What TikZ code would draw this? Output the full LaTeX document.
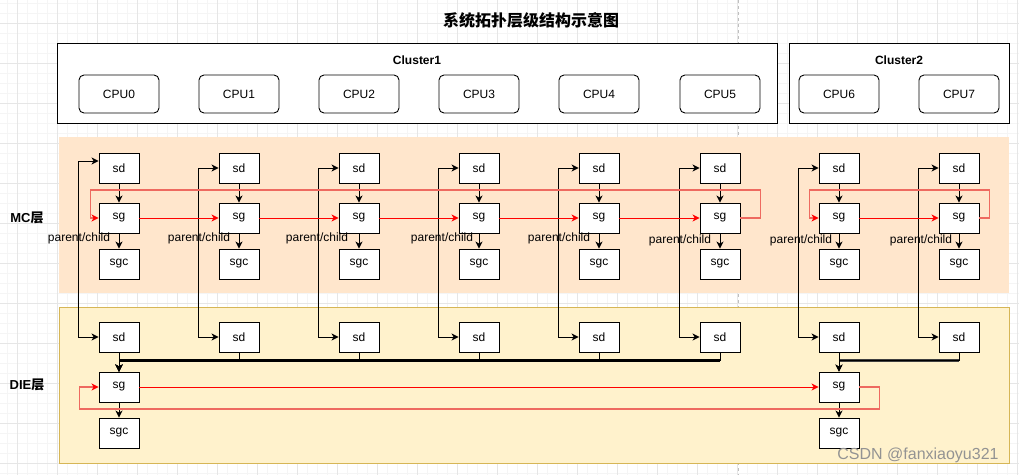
\documentclass[tikz,border=0pt]{standalone}
\usepackage{fontspec}
\setmainfont{Liberation Sans}
\newfontfamily\cjk{Noto Sans CJK SC}
\usetikzlibrary{arrows.meta}
\definecolor{mcfill}{HTML}{FFE6CC}
\definecolor{diefill}{HTML}{FFF2CC}
\definecolor{diedraw}{HTML}{D6B656}
\definecolor{loopred}{HTML}{EE6A60}
\definecolor{gminor}{HTML}{F5F5F5}
\definecolor{gmajor}{HTML}{E6E6E6}
\tikzset{
  tip/.style={-{Stealth[length=7pt,width=7pt,inset=2pt]}},
  bx/.style={draw=black,fill=white,line width=0.9pt,minimum width=40pt,minimum height=30pt,inner sep=0pt,font=\fontsize{12}{14}\selectfont},
  cpu/.style={draw=black,fill=white,line width=0.9pt,rounded corners=5pt,minimum width=80pt,minimum height=38pt,inner sep=0pt,font=\fontsize{12}{14}\selectfont},
  blk/.style={tip,draw=black,line width=1pt},
  both/.style={{Stealth[length=7pt,width=7pt,inset=2pt]}-{Stealth[length=7pt,width=7pt,inset=2pt]},draw=black,line width=1pt},
  redar/.style={tip,draw=red,line width=1pt},
  loopc/.style={-{Stealth[length=7pt,width=7pt,inset=2pt,color=red]},draw=loopred,line width=1.4pt},
  pclab/.style={font=\fontsize{12}{14}\selectfont,inner sep=0pt},
}
\begin{document}
\begin{tikzpicture}[x=1pt,y=-1pt]
\useasboundingbox[fill=white] (0,0) rectangle (1019,475);
% grid
\foreach \x in {7,17,...,1017} \draw[gminor,line width=0.8pt] (\x,0) -- (\x,475);
\foreach \y in {3,13,...,473} \draw[gminor,line width=0.8pt] (0,\y) -- (1019,\y);
\foreach \x in {17,57,...,1017} \draw[gmajor,line width=0.8pt] (\x,0) -- (\x,475);
\foreach \y in {23,63,...,463} \draw[gmajor,line width=0.8pt] (0,\y) -- (1019,\y);
\draw[gray!50,dashed,line width=0.8pt] (738,0) -- (738,475);
% title
\node[font=\cjk\bfseries\fontsize{16}{18}\selectfont] (title) at (531,20) {系统拓扑层级结构示意图};
% clusters
\node[draw=black,fill=white,line width=1pt,minimum width=720pt,minimum height=80pt,inner sep=0pt] (cl1) at (417,83) {};
\node[font=\bfseries\fontsize{12}{14}\selectfont] (cl1lab) at (417,60) {Cluster1};
\node[draw=black,fill=white,line width=1pt,minimum width=220pt,minimum height=80pt,inner sep=0pt] (cl2) at (899,83) {};
\node[font=\bfseries\fontsize{12}{14}\selectfont] (cl2lab) at (899,60) {Cluster2};
\foreach \i/\x in {0/119,1/239,2/359,3/479,4/599,5/720,6/839,7/959}
  \node[cpu] (cpu\i) at (\x,94) {CPU\i};
% layers
\fill[mcfill] (59,137) rectangle (1009,293);
\filldraw[fill=diefill,draw=diedraw,line width=1pt] (59,307) rectangle (1009,463);
\node[font=\bfseries\fontsize{13}{15}\selectfont,inner sep=0pt] (mclab) at (27,218) {MC{\cjk 层}};
\node[font=\bfseries\fontsize{13}{15}\selectfont,inner sep=0pt] (dielab) at (27,385) {DIE{\cjk 层}};
% MC layer nodes
\foreach \i/\x in {1/119,2/239,3/359,4/479,5/599,6/720,7/839,8/959}{
  \node[bx] (msd\i) at (\x,168) {sd};
  \node[bx] (msg\i) at (\x,218) {sg};
  \node[bx] (msgc\i) at (\x,264) {sgc};
  \node[bx] (dsd\i) at (\x,337) {sd};
}
\node[bx] (dsg1) at (119,387) {sg};
\node[bx] (dsgc1) at (119,433) {sgc};
\node[bx] (dsg7) at (839,387) {sg};
\node[bx] (dsgc7) at (839,433) {sgc};
% parent/child labels
\foreach \x/\y in {79/238,199/238,317/238,442/238,559/238,680/240,801/240,921/240}
  \node[pclab] at (\x,\y) {parent/child};
% MC vertical arrows
\foreach \i in {1,...,8}{
  \draw[blk] (msd\i) -- (msg\i);
  \draw[blk] (msg\i) -- (msgc\i);
}
% MC <-> DIE sd links
\draw[both] ([yshift=7pt]msd1.west) -- ++(-20,0) |- (dsd1.west);
\foreach \i in {2,...,8}
  \draw[both] (msd\i.west) -- ++(-20,0) |- (dsd\i.west);
% MC red chain
\foreach \i/\j in {1/2,2/3,3/4,4/5,5/6,7/8}
  \draw[redar] (msg\i) -- (msg\j);
\draw[loopc] (msg6.east) -- ++(20,0) -- ++(0,-28) -- ++(-670,0) |- (msg1.west);
\draw[loopc] (msg8.east) -- ++(10,0) -- ++(0,-28) -- ++(-180,0) |- (msg7.west);
% DIE connections
\coordinate (bus1) at ([yshift=-8pt]dsd6.south);
\coordinate (bus2) at ([yshift=-8pt]dsd8.south);
\draw[line width=2.2pt,black] (dsg1.north |- bus1) -- (bus1);
\draw[line width=2.2pt,black!75] (dsg7.north |- bus2) -- (bus2);
\draw[blk] (dsd1) -- (dsg1);
\foreach \i in {2,...,6}
  \draw[blk] (dsd\i.south) -- ++(0,8) -| (dsg1.north);
\draw[blk] (dsd7) -- (dsg7);
\draw[blk] (dsd8.south) -- ++(0,8) -| (dsg7.north);
\draw[blk] (dsg1) -- (dsgc1);
\draw[blk] (dsg7) -- (dsgc7);
\draw[redar] (dsg1) -- (dsg7);
\draw[loopc] (dsg7.east) -- ++(20,0) -- ++(0,22) -- ++(-800,0) |- (dsg1.west);
% watermark
\node[text=gray!85,font=\fontsize{16}{18}\selectfont,inner sep=0pt] (wm) at (918,455) {CSDN @fanxiaoyu321};
\end{tikzpicture}
\end{document}
